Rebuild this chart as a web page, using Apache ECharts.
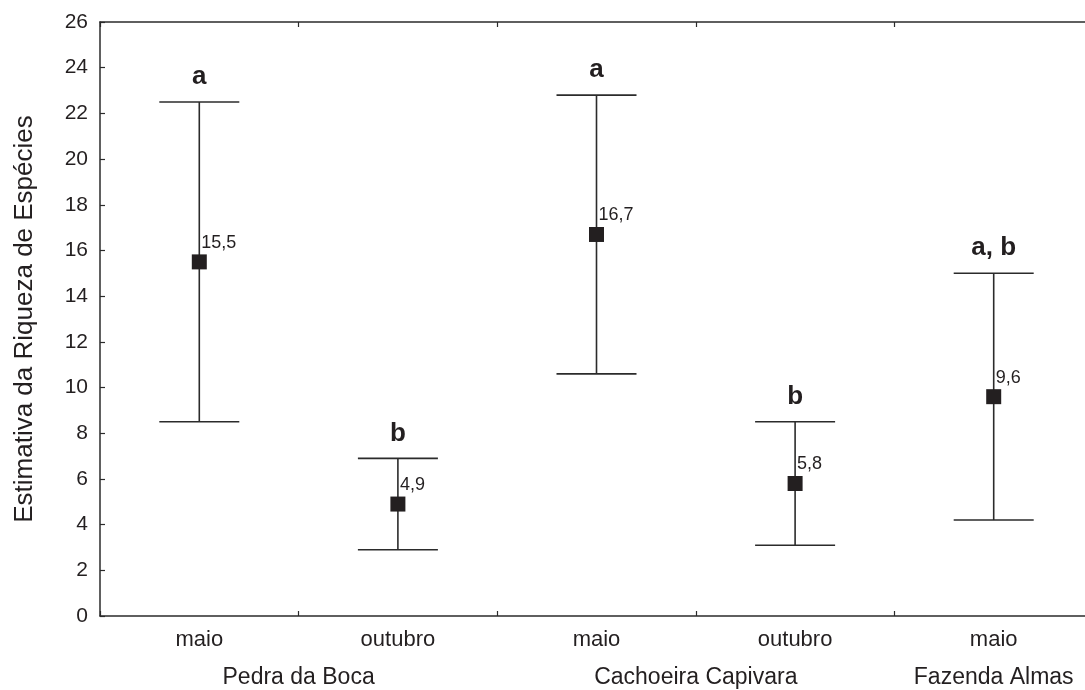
<!DOCTYPE html>
<html>
<head>
<meta charset="utf-8">
<script src="https://cdn.jsdelivr.net/npm/echarts@6/dist/echarts.min.js"></script>
<style>
html,body{margin:0;padding:0;background:#fff;overflow:hidden;}
#c{width:1085px;height:690px;}
</style>
</head>
<body>
<div id="c"></div>
<script>
const categories = ['maio', 'outubro', 'maio', 'outubro', 'maio'];
const means = [15.5, 4.9, 16.7, 5.8, 9.6];
const meanLabels = ['15,5', '4,9', '16,7', '5,8', '9,6'];
const lowers = [8.5, 2.9, 10.6, 3.1, 4.2];
const uppers = [22.5, 6.9, 22.8, 8.5, 15.0];
const letters = ['a', 'b', 'a', 'b', 'a, b'];
const groupNames = ['Pedra da Boca', 'Cachoeira Capivara', 'Fazenda Almas'];
const groupStart = [0, 2, 4];
const groupEnd = [1, 3, 4];
const yTicks = [0, 2, 4, 6, 8, 10, 12, 14, 16, 18, 20, 22, 24, 26];

const FONT = 'Liberation Sans, Arial, sans-serif';
const INK = '#231f20';
const LINE = '#2b2b2b';

const chart = echarts.init(document.getElementById('c'), null, {renderer: 'canvas'});

const errData = categories.map((c, i) => [i, lowers[i], uppers[i], i]);
const meanData = categories.map((c, i) => [i, means[i]]);
const groupData = groupNames.map((g, i) => [groupStart[i], groupEnd[i], i]);

chart.setOption({
  animation: false,
  backgroundColor: '#fff',
  grid: {left: 100, width: 993, top: 22, bottom: 74, outerBoundsMode: 'none', containLabel: false},
  xAxis: [{
    type: 'category',
    data: categories,
    boundaryGap: true,
    position: 'bottom',
    axisLine: {show: true, lineStyle: {color: LINE, width: 1.5}},
    axisTick: {show: true, inside: true, length: 5, lineStyle: {color: LINE, width: 1.2}},
    axisLabel: {color: INK, fontSize: 22, fontFamily: FONT, margin: 13},
    splitLine: {show: false}
  }, {
    type: 'category',
    data: categories,
    boundaryGap: true,
    position: 'top',
    axisLine: {show: true, lineStyle: {color: LINE, width: 1.5}},
    axisTick: {show: true, inside: true, length: 5, lineStyle: {color: LINE, width: 1.2}},
    axisLabel: {show: false},
    splitLine: {show: false}
  }],
  yAxis: {
    type: 'value',
    min: yTicks[0],
    max: yTicks[yTicks.length - 1],
    interval: 2,
    name: 'Estimativa da Riqueza de Espécies',
    nameLocation: 'middle',
    nameRotate: 90,
    nameGap: 62,
    nameTextStyle: {color: INK, fontSize: 26, fontFamily: FONT},
    axisLine: {show: true, lineStyle: {color: LINE, width: 1.5}},
    axisTick: {show: true, inside: true, length: 5, lineStyle: {color: LINE, width: 1.2}},
    axisLabel: {color: INK, fontSize: 21, fontFamily: FONT, margin: 12},
    splitLine: {show: false}
  },
  series: [{
    type: 'custom',
    name: 'ic',
    clip: false,
    data: errData,
    encode: {x: 0, y: [1, 2]},
    renderItem: function (params, api) {
      const x = api.value(0);
      const pLo = api.coord([x, api.value(1)]);
      const pHi = api.coord([x, api.value(2)]);
      const half = 40;
      const idx = api.value(3);
      const st = {stroke: LINE, lineWidth: 1.6};
      return {
        type: 'group',
        children: [
          {type: 'line', shape: {x1: pHi[0], y1: pHi[1], x2: pLo[0], y2: pLo[1]}, style: st},
          {type: 'line', shape: {x1: pHi[0] - half, y1: pHi[1], x2: pHi[0] + half, y2: pHi[1]}, style: st},
          {type: 'line', shape: {x1: pLo[0] - half, y1: pLo[1], x2: pLo[0] + half, y2: pLo[1]}, style: st},
          {type: 'text', x: pHi[0], y: pHi[1] - 12,
           style: {text: letters[idx], fill: INK, font: 'bold 26px ' + FONT, align: 'center', verticalAlign: 'bottom'}}
        ]
      };
    },
    z: 2
  }, {
    type: 'scatter',
    name: 'media',
    data: meanData,
    symbol: 'rect',
    symbolSize: 15,
    itemStyle: {color: INK, opacity: 1},
    emphasis: {disabled: true},
    label: {
      show: true,
      formatter: function (p) { return meanLabels[p.dataIndex]; },
      position: [9.5, -11.5],
      align: 'left',
      verticalAlign: 'middle',
      color: INK,
      opacity: 1,
      fontSize: 18,
      fontFamily: FONT
    },
    z: 3
  }, {
    type: 'custom',
    name: 'grupos',
    clip: false,
    data: groupData,
    encode: {x: [0, 1]},
    renderItem: function (params, api) {
      const a = api.coord([api.value(0), 0]);
      const b = api.coord([api.value(1), 0]);
      const gi = api.value(2);
      return {
        type: 'text',
        x: (a[0] + b[0]) / 2,
        y: a[1] + 62,
        style: {text: groupNames[gi], fill: INK, font: '23px ' + FONT, align: 'center', verticalAlign: 'middle'}
      };
    },
    z: 2
  }]
});
</script>
</body>
</html>
